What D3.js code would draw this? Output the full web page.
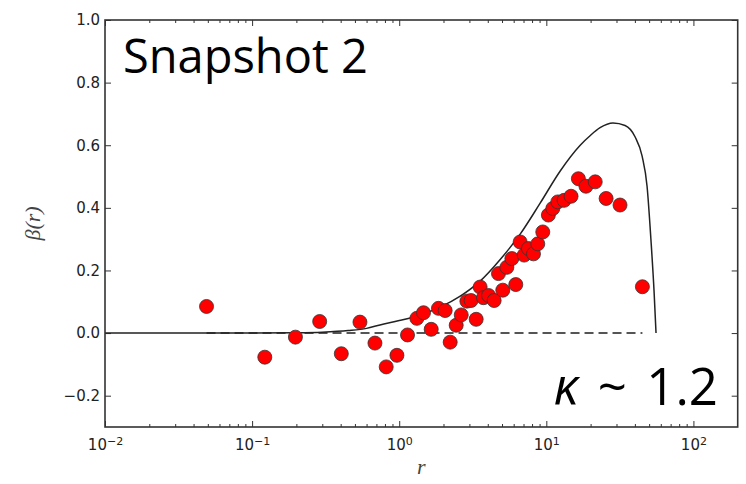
<!DOCTYPE html>
<html>
<head>
<meta charset="utf-8">
<script src="https://cdn.jsdelivr.net/npm/d3@7"></script>
<style>
  body { margin: 0; background: #fff; }
  svg { display: block; }
</style>
</head>
<body>
<script>
// measured points (r, beta)
const pointR = [0.049, 0.122, 0.197, 0.288, 0.404, 0.541, 0.684, 0.816, 0.965, 1.139,
  1.318, 1.463, 1.65, 1.849, 2.053, 2.221, 2.44, 2.64, 2.884, 3.08,
  3.336, 3.55, 3.74, 4.05, 4.42, 4.73, 5.06, 5.39, 5.83, 6.2,
  6.64, 7.07, 7.56, 8.18, 8.75, 9.46, 10.33, 11.07, 11.97, 13.2,
  14.73, 16.52, 18.6, 21.5, 25.5, 31.7, 45.0];
const pointBeta = [0.085, -0.077, -0.013, 0.037, -0.066, 0.035, -0.032, -0.108, -0.071, -0.006,
  0.047, 0.065, 0.012, 0.079, 0.072, -0.029, 0.025, 0.058, 0.102, 0.104,
  0.044, 0.147, 0.113, 0.120, 0.104, 0.19, 0.137, 0.21, 0.238, 0.155,
  0.291, 0.249, 0.270, 0.253, 0.285, 0.323, 0.377, 0.398, 0.419, 0.424,
  0.437, 0.493, 0.469, 0.483, 0.430, 0.409, 0.148];

// model curve
const curveR = [0.01, 0.1, 0.2, 0.3, 0.45, 0.6, 0.74, 1.0, 1.39, 1.9, 2.6, 3.55, 4.86, 6.64,
  9.08, 12.4, 17.0, 20.0, 23.2, 28.4, 34.3, 40.1, 44.8, 48.4, 51.5, 54.0, 55.7];
const curveBeta = [0, 0, 0.001, 0.003, 0.008, 0.015, 0.026, 0.04, 0.058, 0.083, 0.118, 0.166, 0.235, 0.316,
  0.415, 0.517, 0.600, 0.632, 0.656, 0.671, 0.663, 0.627, 0.565, 0.469, 0.294, 0.134, 0];

// reference line at zero, spanning the data
const zeroR = [0.049, 45.0];

const xDomain = [0.01, 200];
const yDomain = [-0.3, 1.0];
const xMajor = [0.01, 0.1, 1, 10, 100];
const xExp = ["\u22122", "\u22121", "0", "1", "2"];
const yMajor = [-0.2, 0, 0.2, 0.4, 0.6, 0.8, 1.0];

const width = 746;
const height = 484;
const plotLeft = 105, plotRight = 737.7, plotTop = 20, plotBottom = 427;

const svg = d3.select("body")
  .append("svg")
  .attr("width", width)
  .attr("height", height);

const x = d3.scaleLog().domain(xDomain).range([plotLeft, plotRight]);
const y = d3.scaleLinear().domain(yDomain).range([plotBottom, plotTop]);

// minor ticks for the log axis
let xMinor = [];
for (let e = -2; e <= 2; e++) {
  for (let m = 2; m <= 9; m++) {
    const v = m * Math.pow(10, e);
    if (v < xDomain[1]) xMinor.push(v);
  }
}

const fmtY = (d) => (d < 0 ? "\u2212" : "") + Math.abs(d).toFixed(1);

//Bottom axis
const gx = svg.append("g")
  .attr("transform", `translate(0,${plotBottom})`)
  .call(d3.axisBottom(x).tickValues(xMajor).tickSizeInner(-6).tickSizeOuter(0).tickPadding(12).tickFormat(""));
gx.selectAll("text").each(function (d, i) {
  const t = d3.select(this);
  t.append("tspan").text("10");
  t.append("tspan").attr("dy", "-0.45em").attr("font-size", "11px").text(xExp[i]);
});
svg.append("g")
  .attr("transform", `translate(0,${plotBottom})`)
  .call(d3.axisBottom(x).tickValues(xMinor).tickSizeInner(-3).tickSizeOuter(0).tickFormat(""));

//Top axis
svg.append("g")
  .attr("transform", `translate(0,${plotTop})`)
  .call(d3.axisTop(x).tickValues(xMajor).tickSizeInner(-6).tickSizeOuter(0).tickFormat(""));
svg.append("g")
  .attr("transform", `translate(0,${plotTop})`)
  .call(d3.axisTop(x).tickValues(xMinor).tickSizeInner(-3).tickSizeOuter(0).tickFormat(""));

//Left and right axes
svg.append("g")
  .attr("transform", `translate(${plotLeft},0)`)
  .call(d3.axisLeft(y).tickValues(yMajor).tickSizeInner(-6).tickSizeOuter(0).tickPadding(5).tickFormat(fmtY));
svg.append("g")
  .attr("transform", `translate(${plotRight},0)`)
  .call(d3.axisRight(y).tickValues(yMajor).tickSizeInner(-6).tickSizeOuter(0).tickFormat(""));

svg.selectAll(".domain").remove();
svg.selectAll(".tick line").attr("stroke", "#333").attr("stroke-width", 1);
svg.selectAll(".tick text")
  .attr("fill", "#222")
  .attr("font-family", "DejaVu Sans")
  .attr("font-size", "15px");

//Zero line
svg.append("line")
  .attr("x1", x(zeroR[0]))
  .attr("x2", x(zeroR[1]))
  .attr("y1", y(0))
  .attr("y2", y(0))
  .attr("stroke", "#555")
  .attr("stroke-width", 2)
  .attr("stroke-dasharray", "9,5");

//Model curve
const line = d3.line()
  .x((d, i) => x(curveR[i]))
  .y((d) => y(d))
  .curve(d3.curveMonotoneX);
svg.append("path")
  .datum(curveBeta)
  .attr("d", line)
  .attr("fill", "none")
  .attr("stroke", "#222")
  .attr("stroke-width", 1.5);

//Points
svg.selectAll("circle")
  .data(pointBeta)
  .enter()
  .append("circle")
  .attr("cx", (d, i) => x(pointR[i]))
  .attr("cy", (d) => y(d))
  .attr("r", 7)
  .attr("fill", "#ff0000")
  .attr("stroke", "#333")
  .attr("stroke-width", 0.8);

//Frame
svg.append("rect")
  .attr("x", plotLeft)
  .attr("y", plotTop)
  .attr("width", plotRight - plotLeft)
  .attr("height", plotBottom - plotTop)
  .attr("fill", "none")
  .attr("stroke", "#333")
  .attr("stroke-width", 1.6);

//Axis labels
svg.append("text")
  .attr("transform", `translate(40,${(plotTop + plotBottom) / 2}) rotate(-90)`)
  .attr("text-anchor", "middle")
  .attr("font-family", "Liberation Serif")
  .attr("font-style", "italic")
  .attr("font-size", "22px")
  .attr("fill", "#444")
  .text("\u03b2(r)");
svg.append("text")
  .attr("x", (plotLeft + plotRight) / 2)
  .attr("y", 474)
  .attr("text-anchor", "middle")
  .attr("font-family", "Liberation Serif")
  .attr("font-style", "italic")
  .attr("font-size", "22px")
  .attr("fill", "#444")
  .text("r");

//Annotations
svg.append("text")
  .attr("x", 123)
  .attr("y", 73)
  .attr("font-family", "Open Sans")
  .attr("font-size", "47px")
  .attr("fill", "#000")
  .text("Snapshot 2");
const kappa = svg.append("text")
  .attr("x", 718)
  .attr("y", 405)
  .attr("text-anchor", "end")
  .attr("font-family", "Open Sans")
  .attr("font-size", "51px")
  .attr("word-spacing", "6px")
  .attr("fill", "#000");
kappa.append("tspan").attr("font-style", "italic").text("\u03ba");
kappa.append("tspan").text(" ~ 1.2");
</script>
</body>
</html>
